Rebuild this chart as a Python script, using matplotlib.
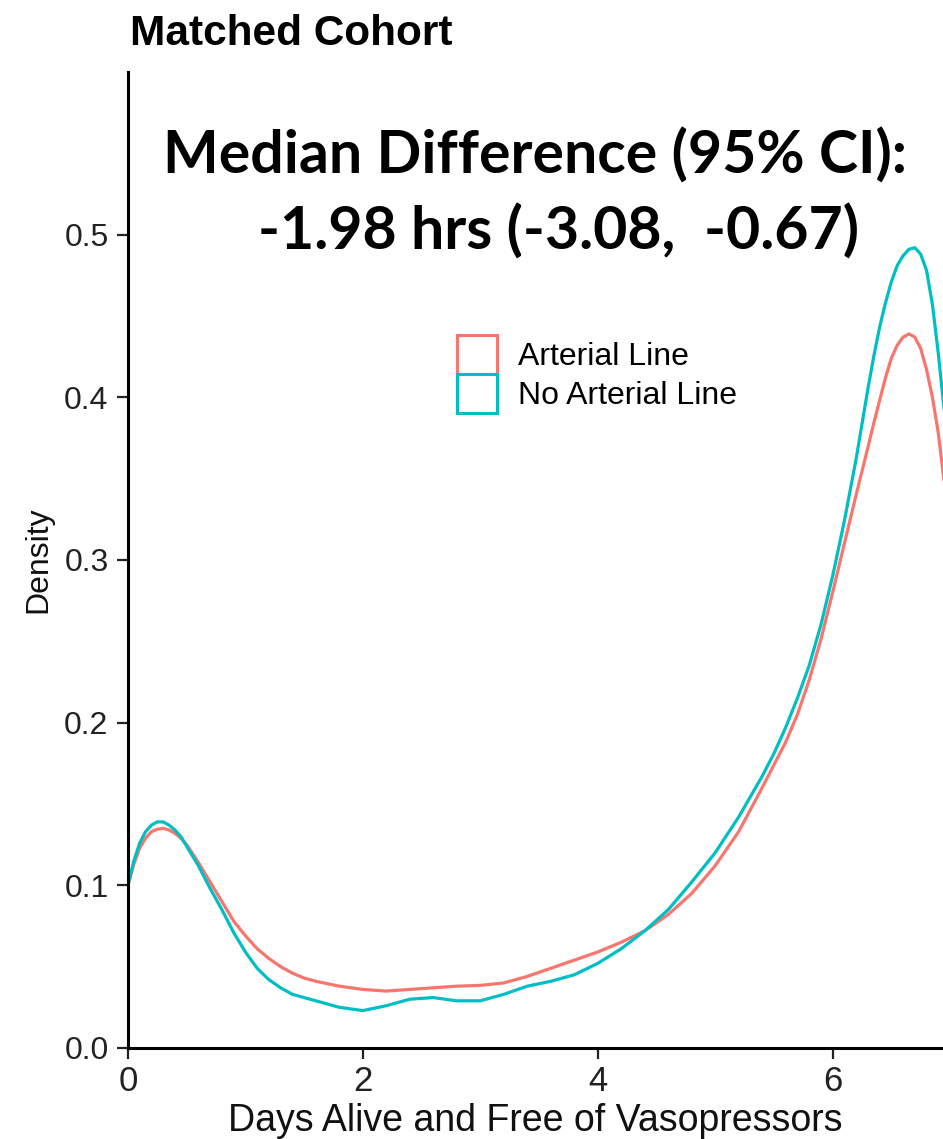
import matplotlib
matplotlib.use('Agg')
import matplotlib.pyplot as plt
from matplotlib.patches import Patch

# density curves
days = [0.0, 0.05, 0.1, 0.15, 0.2, 0.25, 0.3, 0.35, 0.4, 0.45, 0.5, 0.6, 0.7, 0.8,
        0.9, 1.0, 1.1, 1.2, 1.3, 1.4, 1.5, 1.6, 1.8, 2.0, 2.2, 2.4, 2.6, 2.8, 3.0,
        3.2, 3.4, 3.6, 3.8, 4.0, 4.2, 4.4, 4.6, 4.8, 5.0, 5.2, 5.4, 5.5, 5.6, 5.7,
        5.8, 5.9, 6.0, 6.1, 6.2, 6.3, 6.35, 6.4, 6.45, 6.5, 6.55, 6.6, 6.65, 6.7,
        6.75, 6.8, 6.85, 6.9, 6.95]
arterial = [0.100, 0.113, 0.123, 0.129, 0.133, 0.1345, 0.135, 0.134, 0.132, 0.129,
            0.125, 0.114, 0.102, 0.090, 0.078, 0.069, 0.061, 0.055, 0.050, 0.046,
            0.043, 0.041, 0.038, 0.036, 0.035, 0.036, 0.037, 0.038, 0.0385, 0.040,
            0.044, 0.049, 0.054, 0.059, 0.065, 0.072, 0.082, 0.095, 0.112, 0.133,
            0.160, 0.174, 0.188, 0.205, 0.226, 0.251, 0.280, 0.310, 0.340, 0.369,
            0.384, 0.398, 0.412, 0.424, 0.432, 0.437, 0.439, 0.437, 0.430, 0.417,
            0.400, 0.378, 0.348]
no_arterial = [0.100, 0.115, 0.126, 0.133, 0.137, 0.139, 0.139, 0.137, 0.134, 0.130,
               0.124, 0.112, 0.098, 0.085, 0.071, 0.059, 0.049, 0.042, 0.037, 0.033,
               0.031, 0.029, 0.025, 0.023, 0.026, 0.030, 0.031, 0.029, 0.029, 0.033,
               0.038, 0.041, 0.045, 0.052, 0.061, 0.072, 0.085, 0.102, 0.120, 0.142,
               0.167, 0.181, 0.197, 0.215, 0.235, 0.260, 0.290, 0.324, 0.362, 0.405,
               0.425, 0.443, 0.458, 0.471, 0.481, 0.487, 0.491, 0.492, 0.488, 0.478,
               0.457, 0.427, 0.392]

groups = ['Arterial Line', 'No Arterial Line']
colors = ['#F8766D', '#00BFC4']
xticks = [0, 2, 4, 6]
yticks = [0.0, 0.1, 0.2, 0.3, 0.4, 0.5]

plt.rcParams['font.family'] = ['Liberation Sans', 'DejaVu Sans']

fig = plt.figure(figsize=(9.43, 11.39), dpi=100)
ax = fig.add_axes([0.1357, 0.0799, 0.8643, 0.8569])

for series, col in zip([arterial, no_arterial], colors):
    ax.plot(days, series, color=col, lw=2.3, solid_capstyle='round', solid_joinstyle='round')

ax.set_xlim(0, 6.94)
ax.set_ylim(0, 0.6)
ax.set_xticks(xticks)
ax.set_yticks(yticks)
ax.set_yticklabels(['%.1f' % v for v in yticks])
ax.tick_params(axis='x', labelsize=25, length=8, width=1.6, pad=4, colors='#222222')
ax.tick_params(axis='y', labelsize=23, length=8, width=1.6, pad=6, colors='#222222')
for s in ['top', 'right']:
    ax.spines[s].set_visible(False)
for s in ['left', 'bottom']:
    ax.spines[s].set_linewidth(2.2)

ax.set_xlabel('Days Alive and Free of Vasopressors', fontsize=27, labelpad=4, color='#111111')
ax.set_ylabel('Density', fontsize=23, labelpad=8, color='#111111')

fig.text(0.138, 0.9605, 'Matched Cohort', fontsize=30.5, fontweight='bold', va='baseline')

fig.text(0.567, 0.848, 'Median Difference (95% CI):', fontsize=42.5, fontweight='bold',
         family=['Lato', 'DejaVu Sans'], ha='center', va='baseline')
fig.text(0.592, 0.781, '-1.98 hrs (-3.08,  -0.67)', fontsize=42.5, fontweight='bold',
         family=['Lato', 'DejaVu Sans'], ha='center', va='baseline')

handles = [Patch(facecolor='white', edgecolor=c, linewidth=2.2) for c in colors]
fig.legend(handles, groups, loc='upper left', bbox_to_anchor=(0.4846, 0.7059),
           frameon=False, fontsize=23, handlelength=1.25, handleheight=1.5,
           handletextpad=0.65, labelspacing=0.0, borderpad=0, borderaxespad=0)

fig.savefig('out.png', dpi=100)
